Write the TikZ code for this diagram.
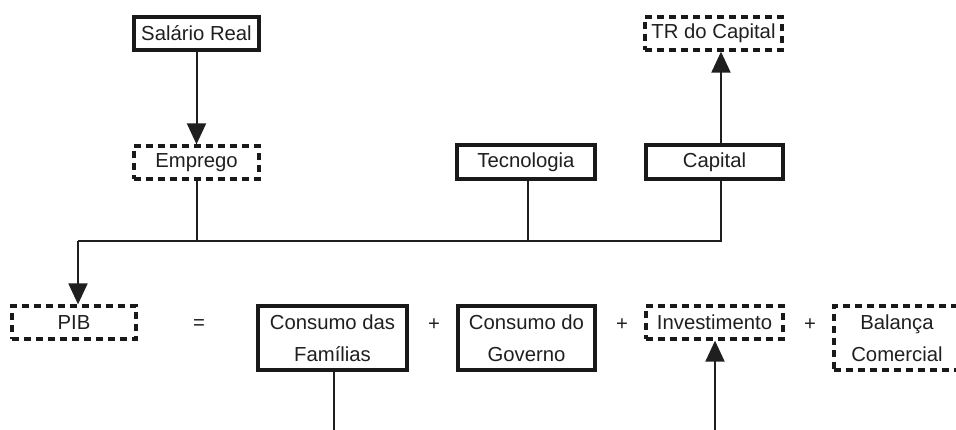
\documentclass[tikz,border=0pt]{standalone}
\usepackage{fontspec}
\setmainfont{Liberation Sans}
\usetikzlibrary{arrows.meta,calc}
\begin{document}
\begin{tikzpicture}[x=1pt,y=-1pt,
  box/.style={draw=black!90,line width=3.3pt,inner sep=0pt,align=center,
    font=\fontsize{20.3}{32}\selectfont,text=black!88},
  solidbox/.style={box},
  dashbox/.style={box,dash pattern=on 7pt off 5pt},
  conn/.style={draw=black!88,line width=2pt},
  arr/.style={conn,-{Triangle[width=19pt,length=21pt]}},
  op/.style={inner sep=0pt,font=\fontsize{20.3}{24}\selectfont,text=black!88}]
\useasboundingbox (0,0) rectangle (956,429);
% top row
\node[solidbox,minimum width=125pt,minimum height=33pt] (sal) at (196.5,33.5) {Salário Real};
\node[dashbox,minimum width=137pt,minimum height=33pt] (tr) at (713.5,33.5) {TR do Capital};
% middle row
\node[dashbox,minimum width=125pt,minimum height=33pt] (emp) at (196.5,162.5) {Emprego};
\node[solidbox,minimum width=138pt,minimum height=34pt] (tec) at (526,162) {Tecnologia};
\node[solidbox,minimum width=137pt,minimum height=34pt] (cap) at (714.5,162) {Capital};
% bottom row
\node[dashbox,minimum width=124pt,minimum height=33pt] (pib) at (74,322.5) {PIB};
\node[op] (eq) at (199,325) {=};
\node[solidbox,minimum width=149pt,minimum height=64pt] (cf) at (332.5,338) {Consumo das\\Famílias};
\node[op] (p1) at (434,325) {+};
\node[solidbox,minimum width=137pt,minimum height=64pt] (cg) at (526.5,338) {Consumo do\\Governo};
\node[op] (p2) at (622,325) {+};
\node[dashbox,minimum width=137pt,minimum height=33pt] (inv) at (714.5,322.5) {Investimento};
\node[op] (p3) at (810,325) {+};
\node[dashbox,minimum width=126pt,minimum height=64pt] (bal) at (897,338) {Balança\\Comercial};
% coordinates
\coordinate (capt) at ($(cap.north)+(6.5,0)$);
\coordinate (capb) at ($(cap.south)+(6.5,0)$);
\coordinate (tecb) at ($(tec.south)+(2,0)$);
\coordinate (pibt) at ($(pib.north)+(4,0)$);
\coordinate (bus) at (0,241);
\coordinate (cfb) at ($(cf.south)+(1.5,0)$);
\coordinate (cfend) at (334,430);
\coordinate (invb) at ($(inv.south)+(0.5,0)$);
\coordinate (invstart) at (715,430);
% connectors
\draw[arr] (sal.south) -- (emp.north);
\draw[arr] (capt) -- (capt |- tr.south);
\draw[conn] (emp.south) -- (emp.south |- bus);
\draw[conn] (tecb) -- (tecb |- bus);
\draw[conn] (capb) -- (capb |- bus) -- (pibt |- bus);
\draw[arr] (pibt |- bus) -- (pibt);
\draw[conn] (cfb) -- (cfend);
\draw[arr] (invstart) -- (invb);
\end{tikzpicture}
\end{document}
